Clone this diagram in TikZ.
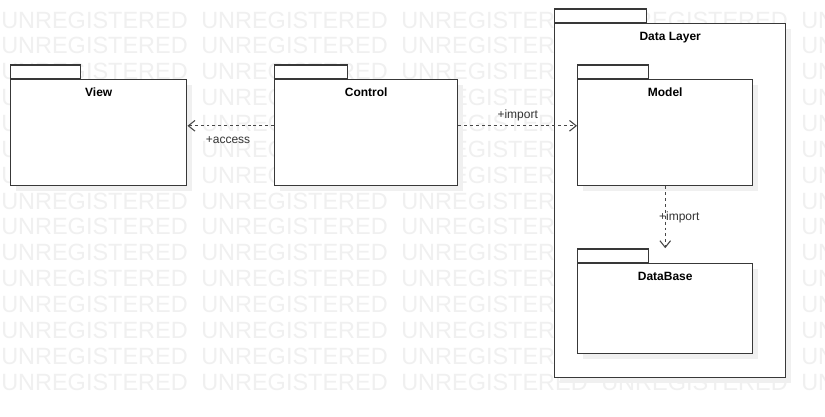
\documentclass[tikz,border=0pt]{standalone}
\usepackage{fontspec}
\setmainfont{Liberation Sans}
\usetikzlibrary{arrows.meta}

\tikzset{
  wmark/.style={text=black!6,font=\fontsize{17.6}{18}\selectfont,inner sep=0pt,anchor=west},
  pkgline/.style={draw=black!78,line width=1.1pt},
  pkgbody/.style={pkgline,fill=white,rectangle,inner sep=0pt,anchor=north west},
  pkgtab/.style={pkgline,fill=white,rectangle,inner sep=0pt,anchor=south west,minimum height=10pt},
  pkgtitle/.style={font=\fontsize{9}{11}\selectfont\bfseries,inner sep=0pt,anchor=base},
  pkgshadow/.style={fill=black!6},
  dep/.style={draw=black!72,line width=0.8pt,dash pattern=on 2.2pt off 2.2pt,
    -{Straight Barb[length=5pt,width=8pt]}},
  deplabel/.style={font=\fontsize{9}{11}\selectfont,text=black!80,inner sep=2pt}
}

% package: name, x, y, width, height, title, tab width
\newcommand{\umlpkg}[7]{%
  \fill[pkgshadow] (#2+6,#3+6) rectangle ++(#4,#5);
  \node[pkgtab,minimum width=#7*0.75pt] (#1tab) at (#2,#3) {};
  \node[pkgbody,minimum width=#4*0.75pt,minimum height=#5*0.75pt] (#1) at (#2,#3) {};
  \node[pkgtitle] at ([yshift=-13.5pt]#1.north) {#6};
}

\begin{document}
\begin{tikzpicture}[x=0.75pt,y=-0.75pt]
\useasboundingbox (0,0) rectangle (825,417);
\fill[white] (0,0) rectangle (825,417);

% watermark
\begin{scope}
\clip (0,0) rectangle (825,417);
\foreach \row in {0,...,14}
  \foreach \col in {0,...,4}
    \node[wmark] at (\col*200+1, 20+\row*25.86) {UNREGISTERED};
\end{scope}

% packages
\umlpkg{view}{10}{79}{176}{106}{View}{70}
\umlpkg{ctrl}{274}{79}{183}{106}{Control}{73}
\umlpkg{data}{554}{23}{231}{354}{Data Layer}{92}
\umlpkg{model}{577}{79}{175}{106}{Model}{71}
\umlpkg{db}{577}{263}{175}{90}{DataBase}{71}

% dependencies
\draw[dep] ([yshift=5.2pt]ctrl.west) -- node[deplabel,below=5.5pt,xshift=-2pt] {+access} ([yshift=5.2pt]view.east);
\draw[dep] ([yshift=5.2pt]ctrl.east) -- node[deplabel,above=1pt] {+import} ([yshift=5.2pt]model.west);
\draw[dep] (model.south) -- node[deplabel,anchor=west,xshift=-7pt,yshift=0pt] {+import} (model.south |- dbtab.north);
\end{tikzpicture}
\end{document}
